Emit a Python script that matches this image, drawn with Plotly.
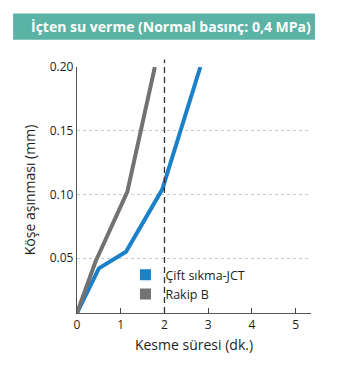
import plotly.graph_objects as go

title_text = "İçten su verme (Normal basınç: 0,4 MPa)"
x_title = "Kesme süresi (dk.)"
y_title = "Köşe aşınması (mm)"

jct_name = "Çift sıkma-JCT"
jct_x = [0, 0.5, 1.12, 1.95, 2.82]
jct_y = [0.007, 0.042, 0.055, 0.104, 0.20]

rakip_name = "Rakip B"
rakip_x = [0, 0.42, 1.15, 1.40, 1.78]
rakip_y = [0.007, 0.047, 0.102, 0.140, 0.20]

x_ticks = [0, 1, 2, 3, 4, 5]
y_ticks = [0.05, 0.10, 0.15, 0.20]
y_tick_labels = ["0.05", "0.10", "0.15", "0.20"]
ref_x = 2

BLUE = "#1b80c8"
GRAY = "#727272"
FONT = "Open Sans"

fig = go.Figure()
fig.add_trace(go.Scatter(x=jct_x, y=jct_y, mode="lines", line=dict(color=BLUE, width=4),
                         showlegend=False, cliponaxis=False))
fig.add_trace(go.Scatter(x=rakip_x, y=rakip_y, mode="lines", line=dict(color=GRAY, width=4),
                         showlegend=False, cliponaxis=False))
fig.add_trace(go.Scatter(x=[None], y=[None], mode="markers", name=jct_name,
                         marker=dict(symbol="square", size=11, color=BLUE)))
fig.add_trace(go.Scatter(x=[None], y=[None], mode="markers", name=rakip_name,
                         marker=dict(symbol="square", size=11, color=GRAY)))

fig.add_shape(type="line", xref="x", yref="paper", x0=ref_x, x1=ref_x, y0=0, y1=1.03,
              line=dict(color="#333333", width=1.3, dash="6px,4px"))

fig.add_shape(type="rect", xref="paper", yref="paper", x0=-0.273, x1=1.017,
              y0=1.111, y1=1.217, fillcolor="#5ab3a4", line=dict(width=0), layer="below")
fig.add_annotation(text="<b>" + title_text + "</b>", xref="paper", yref="paper",
                   x=0.40, y=1.164, showarrow=False, xanchor="center", yanchor="middle",
                   font=dict(family=FONT, size=14, color="white"))

fig.update_layout(
    width=344, height=369,
    margin=dict(l=77, r=33, t=67, b=56),
    paper_bgcolor="white", plot_bgcolor="white",
    font=dict(family=FONT, size=12, color="#1e1e1e"),
    legend=dict(x=0.207, y=0.215, xanchor="left", yanchor="top", bgcolor="rgba(0,0,0,0)",
                font=dict(size=12.5), tracegroupgap=0, itemwidth=30),
    showlegend=True,
)
fig.update_xaxes(range=[0, 5.35], tickvals=x_ticks, ticks="inside", ticklen=5,
                 tickcolor="#444444", showline=True, linecolor="#555555", linewidth=1.3,
                 showgrid=False, zeroline=False, tickfont=dict(size=12),
                 title=dict(text=x_title, font=dict(size=14), standoff=8))
fig.update_yaxes(range=[0.007, 0.20], tickvals=y_ticks, ticktext=y_tick_labels, ticks="",
                 showline=True, linecolor="#555555", linewidth=1.3,
                 showgrid=True, gridcolor="#c8c8c8", gridwidth=1, griddash="dot",
                 zeroline=False, tickfont=dict(size=12),
                 title=dict(text=y_title, font=dict(size=14), standoff=10))

fig.write_html("out.html")
